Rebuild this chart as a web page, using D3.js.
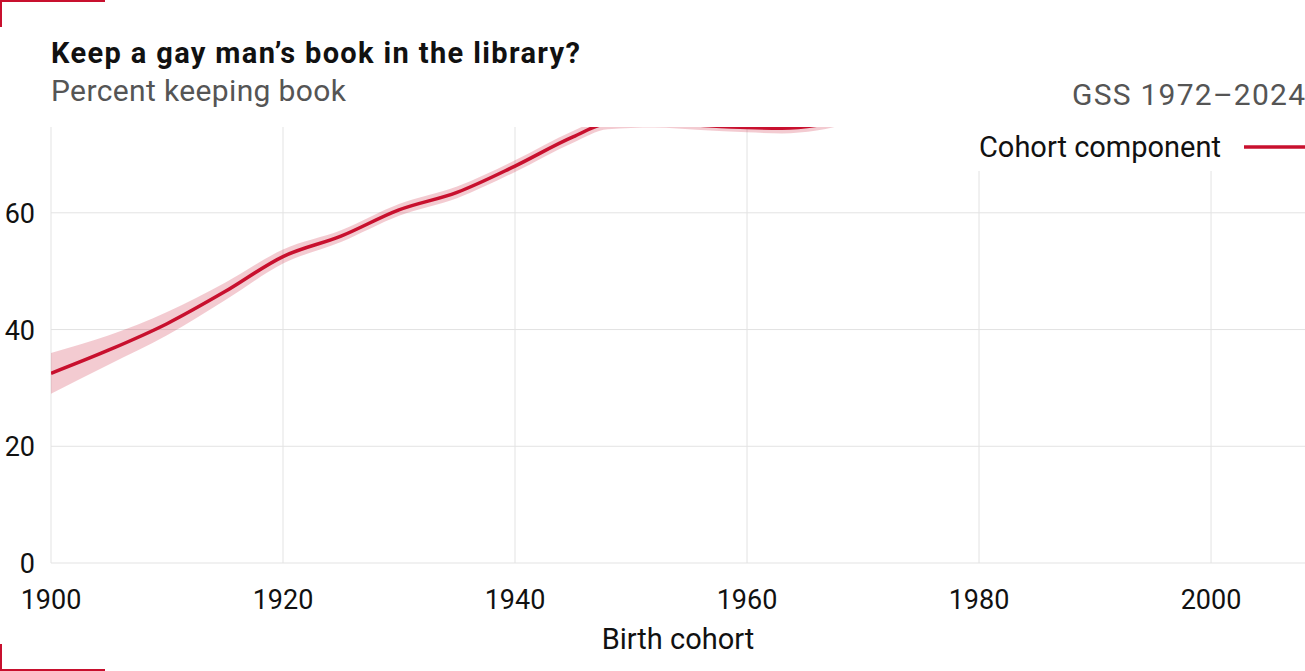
<!DOCTYPE html>
<html><head><meta charset="utf-8">
<script src="https://cdn.jsdelivr.net/npm/d3@7"></script>
<style>body{margin:0;background:#fff;font-family:Roboto,sans-serif}</style>
</head><body><svg id="c" width="1305" height="671"></svg>
<script>
const years = [1900,1905,1910,1915,1920,1925,1930,1935,1940,1945,1948,1952,1956,1960,1963,1966,1970];
const estimate = [32.5,36.5,41,46.5,52.5,56,60.5,63.5,68,73,75.3,75.5,75,74.6,74.5,75,77];
const lower = [29,34,39,45,51.3,55,59.5,62.5,67,72,74.3,74.6,74.2,73.8,73.6,74.1,76];
const upper = [36,39,43,48,53.7,57,61.5,64.5,69,74,76.3,76.4,75.8,75.4,75.4,75.9,78];
const xTicks = [1900,1920,1940,1960,1980,2000];
const yTicks = [0,20,40,60];
const svg = d3.select("#c");
const x = d3.scaleLinear().domain([1900,2008.1]).range([51,1305]);
const y = d3.scaleLinear().domain([0,74.7]).range([563,127]);
svg.append("defs").append("clipPath").attr("id","cp").append("rect").attr("x",51).attr("y",127).attr("width",1254).attr("height",436);
const g = svg.append("g");
g.selectAll(".vg").data(xTicks).join("line").attr("x1",d=>x(d)).attr("x2",d=>x(d)).attr("y1",127).attr("y2",563).attr("stroke","#e3e3e3");
g.selectAll(".hg").data(yTicks).join("line").attr("x1",51).attr("x2",1305).attr("y1",d=>y(d)).attr("y2",d=>y(d)).attr("stroke","#e3e3e3");
g.selectAll(".xt").data(xTicks).join("text").attr("x",d=>x(d)).attr("y",609).attr("text-anchor","middle").attr("font-size",27).attr("fill","#111").text(d=>d);
g.selectAll(".yt").data(yTicks).join("text").attr("x",35).attr("y",d=>y(d)+10).attr("text-anchor","end").attr("font-size",27).attr("fill","#111").text(d=>d);
const pts = years.map((d,i)=>({x:d,e:estimate[i],l:lower[i],u:upper[i]}));
const p = svg.append("g").attr("clip-path","url(#cp)");
p.append("path").datum(pts).attr("fill","#c8102e").attr("opacity",0.22)
 .attr("d",d3.area().x(d=>x(d.x)).y0(d=>y(d.l)).y1(d=>y(d.u)).curve(d3.curveMonotoneX));
p.append("path").datum(pts).attr("fill","none").attr("stroke","#c8102e").attr("stroke-width",3.5)
 .attr("d",d3.line().x(d=>x(d.x)).y(d=>y(d.e)).curve(d3.curveMonotoneX));
svg.append("rect").attr("x",960).attr("y",127).attr("width",345).attr("height",44).attr("fill","#fff");
svg.append("text").attr("x",1221).attr("y",157).attr("text-anchor","end").attr("font-size",29).attr("fill","#111").text("Cohort component");
svg.append("line").attr("x1",1244).attr("x2",1305).attr("y1",147).attr("y2",147).attr("stroke","#c8102e").attr("stroke-width",3.5);
svg.append("text").attr("x",51).attr("y",63).attr("font-size",29).attr("font-weight","bold").attr("fill","#111").attr("textLength",529).attr("lengthAdjust","spacing").text("Keep a gay man’s book in the library?");
svg.append("text").attr("x",51).attr("y",101).attr("font-size",30).attr("fill","#555").attr("textLength",295).text("Percent keeping book");
svg.append("text").attr("x",1072).attr("y",105).attr("font-size",30).attr("fill","#555").attr("textLength",233).text("GSS 1972–2024");
svg.append("text").attr("x",678).attr("y",649).attr("text-anchor","middle").attr("font-size",29).attr("fill","#111").text("Birth cohort");
svg.append("path").attr("d","M1,27V1H105").attr("fill","none").attr("stroke","#c8102e").attr("stroke-width",2);
svg.append("path").attr("d","M1,644V670H105").attr("fill","none").attr("stroke","#c8102e").attr("stroke-width",2);
</script></body></html>
